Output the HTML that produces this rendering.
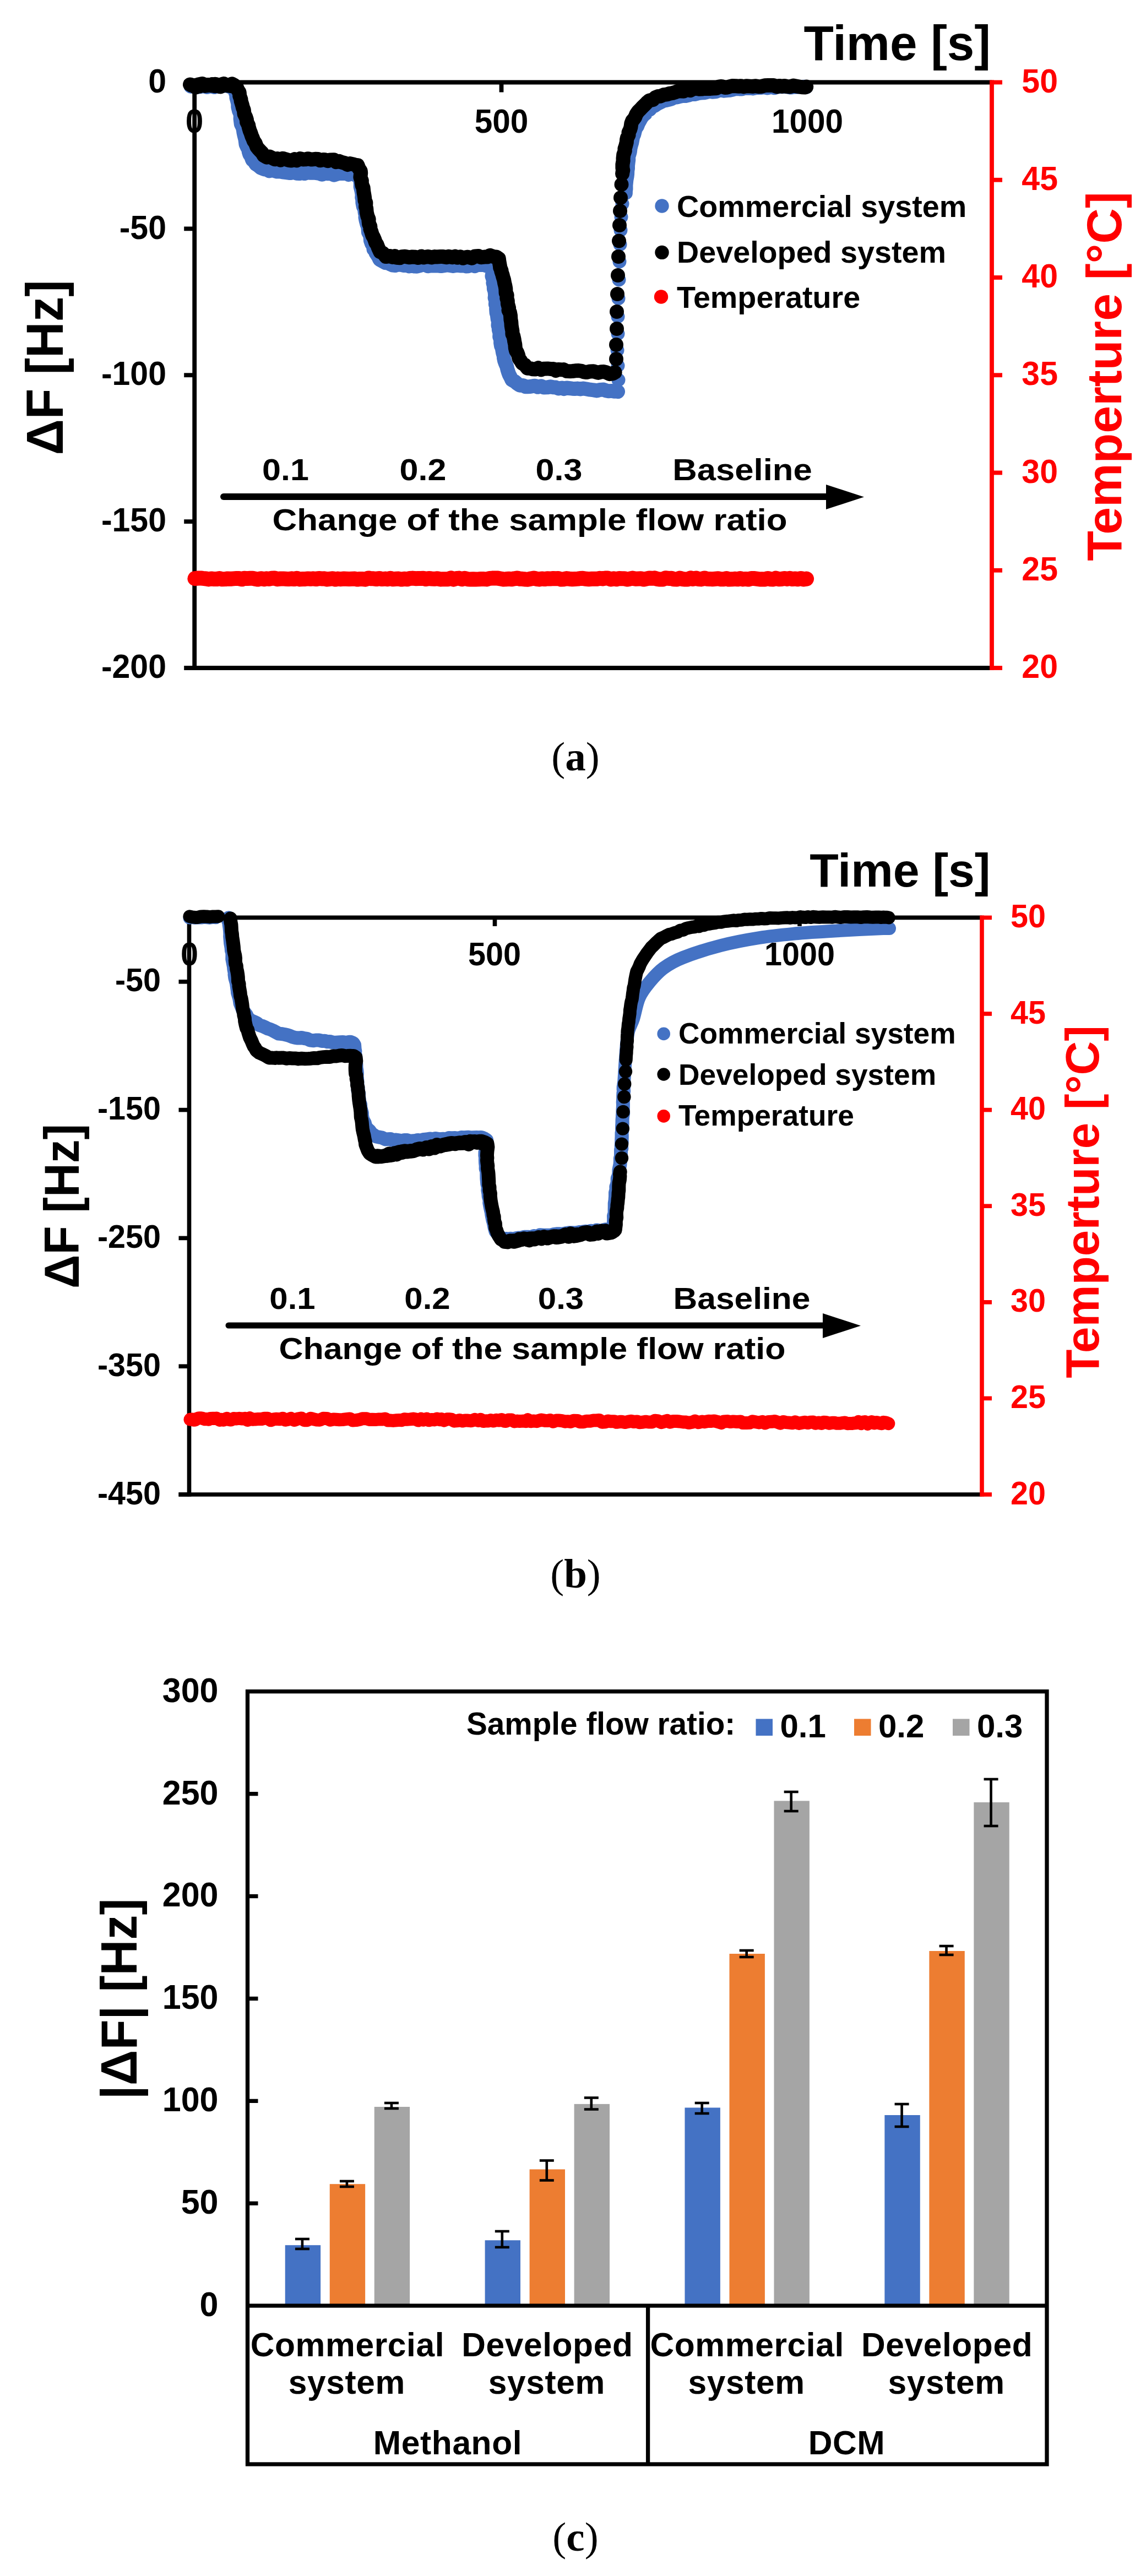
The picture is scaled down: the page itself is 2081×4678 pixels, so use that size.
<!DOCTYPE html>
<html><head><meta charset="utf-8"><title>Figure</title>
<style>
html,body{margin:0;padding:0;background:#fff}
svg{display:block;font-family:"Liberation Sans", sans-serif;font-weight:bold}
</style></head><body>
<svg width="2081" height="4678" viewBox="0 0 2081 4678">
<rect width="2081" height="4678" fill="#fff"/>
<line x1="353.2" y1="145.6" x2="353.2" y2="1216.9" stroke="#000" stroke-width="7.8" stroke-linecap="butt"/>
<line x1="353.2" y1="149.5" x2="1801" y2="149.5" stroke="#000" stroke-width="7.8" stroke-linecap="butt"/>
<line x1="334.2" y1="1213" x2="1801" y2="1213" stroke="#000" stroke-width="7.8" stroke-linecap="butt"/>
<line x1="334.2" y1="149.5" x2="353.2" y2="149.5" stroke="#000" stroke-width="7.8" stroke-linecap="butt"/>
<line x1="334.2" y1="415.375" x2="353.2" y2="415.375" stroke="#000" stroke-width="7.8" stroke-linecap="butt"/>
<line x1="334.2" y1="681.25" x2="353.2" y2="681.25" stroke="#000" stroke-width="7.8" stroke-linecap="butt"/>
<line x1="334.2" y1="947.125" x2="353.2" y2="947.125" stroke="#000" stroke-width="7.8" stroke-linecap="butt"/>
<line x1="910.5" y1="149.5" x2="910.5" y2="167.5" stroke="#000" stroke-width="7.8" stroke-linecap="butt"/>
<line x1="1466" y1="149.5" x2="1466" y2="167.5" stroke="#000" stroke-width="7.8" stroke-linecap="butt"/>
<line x1="1801" y1="145.6" x2="1801" y2="1216.9" stroke="#FF0000" stroke-width="7.8" stroke-linecap="butt"/>
<line x1="1801" y1="149.5" x2="1820" y2="149.5" stroke="#FF0000" stroke-width="7.8" stroke-linecap="butt"/>
<text transform="translate(1921 167.6) scale(1 1.04)" font-size="59" text-anchor="end" fill="#FF0000" font-weight="bold">50</text>
<line x1="1801" y1="326.75" x2="1820" y2="326.75" stroke="#FF0000" stroke-width="7.8" stroke-linecap="butt"/>
<text transform="translate(1921 344.9) scale(1 1.04)" font-size="59" text-anchor="end" fill="#FF0000" font-weight="bold">45</text>
<line x1="1801" y1="504.0" x2="1820" y2="504.0" stroke="#FF0000" stroke-width="7.8" stroke-linecap="butt"/>
<text transform="translate(1921 522.1) scale(1 1.04)" font-size="59" text-anchor="end" fill="#FF0000" font-weight="bold">40</text>
<line x1="1801" y1="681.25" x2="1820" y2="681.25" stroke="#FF0000" stroke-width="7.8" stroke-linecap="butt"/>
<text transform="translate(1921 699.4) scale(1 1.04)" font-size="59" text-anchor="end" fill="#FF0000" font-weight="bold">35</text>
<line x1="1801" y1="858.5" x2="1820" y2="858.5" stroke="#FF0000" stroke-width="7.8" stroke-linecap="butt"/>
<text transform="translate(1921 876.6) scale(1 1.04)" font-size="59" text-anchor="end" fill="#FF0000" font-weight="bold">30</text>
<line x1="1801" y1="1035.75" x2="1820" y2="1035.75" stroke="#FF0000" stroke-width="7.8" stroke-linecap="butt"/>
<text transform="translate(1921 1053.9) scale(1 1.04)" font-size="59" text-anchor="end" fill="#FF0000" font-weight="bold">25</text>
<line x1="1801" y1="1213.0" x2="1820" y2="1213.0" stroke="#FF0000" stroke-width="7.8" stroke-linecap="butt"/>
<text transform="translate(1921 1231.1) scale(1 1.04)" font-size="59" text-anchor="end" fill="#FF0000" font-weight="bold">20</text>
<polyline points="346.7,156.9 350.5,156.6 354.4,157.4 358.3,157.7 363.6,157.3 369.4,156.0 376.2,158.1 381.9,156.0 389.2,158.1 395.4,156.2 402.3,155.0 407.9,155.7 412.0,155.2 417.1,157.5 421.0,157.0 425.3,156.6 427.9,159.6 427.2,167.1 429.2,171.9 429.4,177.2 430.6,181.5 432.3,188.4 432.3,194.0 434.0,201.2 435.4,204.2 436.8,208.6 436.6,215.6 437.1,219.8 437.8,225.4 440.2,230.1 441.6,234.3 442.4,240.3 443.5,245.5 445.3,252.5 445.9,256.7 446.5,261.8 449.1,267.5 450.9,269.8 451.8,275.5 453.3,280.2 455.9,283.9 458.1,290.3 461.0,292.5 464.8,298.2 468.6,300.7 474.0,305.0 479.6,307.2 484.6,307.7 489.0,310.4 494.7,309.0 497.9,310.0 502.9,311.5 508.8,311.3 513.2,312.3 519.7,313.2 524.9,313.9 528.5,313.9 533.4,312.3 538.7,314.8 543.7,315.1 548.0,314.0 552.8,315.0 558.1,313.3 563.9,313.8 569.6,313.6 574.3,314.1 579.8,314.9 584.8,316.7 590.9,314.5 595.0,315.3 599.7,314.8 606.7,317.7 611.9,316.0 617.0,314.7 623.1,315.0 629.4,314.6 633.0,317.1 638.7,314.7 643.0,314.7 646.8,318.4 650.7,318.6 653.6,321.3 654.4,327.9 654.8,334.2 654.7,339.1 656.3,345.7 657.1,349.7 657.7,354.2 657.3,358.5 658.3,362.0 658.4,368.1 659.7,374.8 661.9,379.4 662.8,386.6 663.9,389.9 663.5,394.8 664.5,399.9 666.4,407.3 667.9,410.9 668.7,416.9 668.8,421.3 671.5,426.3 672.5,429.9 673.0,436.8 674.9,442.3 677.8,446.1 678.5,452.6 681.1,454.6 682.3,458.9 687.2,466.6 689.3,471.3 695.2,474.5 699.7,477.2 703.3,476.8 709.2,479.9 713.0,481.6 717.7,482.0 723.6,480.3 727.9,480.9 733.6,482.1 739.5,481.7 743.1,483.4 747.8,482.1 752.7,483.6 757.1,483.7 762.2,482.4 767.4,480.8 772.6,481.3 777.2,483.3 783.1,482.2 789.8,482.5 794.7,482.3 800.8,483.1 805.5,482.4 811.3,481.4 817.8,482.1 822.7,482.9 828.6,481.9 833.0,482.0 837.5,482.6 841.9,482.1 846.1,483.4 850.4,483.2 856.8,481.2 862.0,483.2 868.3,480.3 872.3,481.1 877.3,480.5 881.8,482.0 887.2,483.3 889.3,483.7 894.0,485.9 894.6,494.6 893.5,501.4 894.5,504.3 896.3,510.1 895.4,513.8 896.8,518.8 896.9,524.3 898.6,529.3 899.1,536.8 898.6,540.9 900.4,546.2 899.9,552.6 901.8,557.8 901.1,560.9 901.6,568.0 902.7,571.4 903.7,579.5 905.1,583.0 904.5,590.7 906.0,595.4 905.8,598.6 907.6,604.9 907.2,611.4 909.2,616.9 909.1,622.7 910.0,628.1 911.6,631.6 912.8,638.5 913.2,640.8 914.7,645.8 915.0,650.1 916.0,654.7 917.6,659.4 920.2,665.4 921.4,670.7 922.8,675.4 924.6,680.2 927.8,686.3 929.4,689.9 935.1,693.0 939.4,696.8 943.9,699.8 949.8,700.0 954.3,702.2 957.8,702.2 963.0,701.9 967.2,701.2 971.4,700.7 976.7,702.8 982.4,701.2 987.6,703.5 994.8,703.2 999.6,702.2 1004.5,703.2 1009.1,703.5 1014.2,705.5 1020.4,704.5 1023.8,706.1 1028.8,704.5 1033.1,705.0 1039.0,705.7 1043.6,706.0 1048.4,705.6 1053.8,706.4 1059.1,705.5 1065.2,706.5 1071.6,707.7 1077.9,708.4 1083.8,709.4 1089.1,707.9 1096.0,707.6 1101.0,709.5 1105.0,710.3 1111.4,709.9 1115.5,710.7 1118.2,709.9 1122.0,711.1" fill="none" stroke="#4472C4" stroke-width="26" stroke-linecap="round" stroke-linejoin="round"/>
<circle cx="1123" cy="690" r="12.5" fill="#4472C4"/>
<circle cx="1122" cy="664" r="12.5" fill="#4472C4"/>
<circle cx="1121" cy="636" r="12.5" fill="#4472C4"/>
<circle cx="1122" cy="606" r="12.5" fill="#4472C4"/>
<circle cx="1122" cy="575" r="12.5" fill="#4472C4"/>
<circle cx="1123" cy="542" r="12.5" fill="#4472C4"/>
<circle cx="1124" cy="508" r="12.5" fill="#4472C4"/>
<circle cx="1125" cy="475" r="12.5" fill="#4472C4"/>
<circle cx="1126" cy="444" r="12.5" fill="#4472C4"/>
<circle cx="1127" cy="418" r="12.5" fill="#4472C4"/>
<circle cx="1128" cy="394" r="12.5" fill="#4472C4"/>
<circle cx="1130" cy="370" r="12.5" fill="#4472C4"/>
<polyline points="1136.4,350.7 1136.4,347.5 1137.0,342.9 1136.9,336.5 1137.4,331.6 1137.9,326.7 1139.1,320.3 1139.6,315.6 1139.8,309.5 1140.5,306.1 1140.5,300.7 1141.2,294.8 1141.8,290.1 1141.6,284.9 1143.3,279.4 1144.3,275.6 1145.1,269.1 1146.2,264.5 1147.8,259.2 1148.9,253.2 1149.7,248.7 1151.8,244.1 1153.1,239.0 1154.6,233.6 1157.6,229.2 1159.9,223.6 1162.2,219.4 1165.0,214.2 1169.0,209.3 1172.5,206.5 1175.1,201.7 1180.4,198.9 1184.6,194.0 1189.0,192.3 1194.0,188.8 1199.6,186.0 1205.3,183.3 1209.7,182.4 1214.6,181.3 1218.9,180.2 1225.0,177.0 1229.3,176.9 1234.8,175.4 1239.6,174.5 1245.1,174.5 1250.1,173.4 1256.7,171.2 1262.5,171.4 1268.1,169.7 1272.8,169.1 1278.7,168.8 1283.1,167.8 1288.3,166.4 1293.6,167.3 1299.7,166.9 1304.9,164.9 1310.3,164.2 1315.0,165.2 1320.5,164.5 1325.3,164.2 1330.9,163.0 1336.2,161.5 1342.3,161.9 1347.2,162.0 1351.6,160.4 1357.3,160.3 1361.8,160.4 1366.7,160.9 1372.7,159.7 1377.6,159.5 1382.9,159.4 1388.0,158.7 1393.8,160.0 1400.0,158.4 1406.1,159.8 1411.5,158.0 1417.3,157.7 1423.6,157.6 1429.6,157.9 1436.0,159.1 1442.0,158.1 1447.1,158.2 1452.1,157.8 1456.3,157.6 1461.3,157.3 1464.0,158.3" fill="none" stroke="#4472C4" stroke-width="25" stroke-linecap="round" stroke-linejoin="round"/>
<polyline points="347.8,155.0 350.1,155.0 355.0,155.5 361.8,156.8 367.7,153.6 372.4,155.9 380.9,154.9 385.1,153.1 390.0,156.2 396.6,155.7 402.5,153.4 406.2,152.8 412.4,154.6 418.2,154.7 421.8,154.8 424.9,154.2 430.0,159.0 432.2,164.1 434.7,167.7 435.2,174.1 437.5,180.4 437.6,183.4 439.9,190.8 440.9,195.1 442.8,199.9 443.6,206.9 446.6,213.2 448.0,217.5 448.1,221.4 451.3,227.7 451.6,230.3 453.8,237.8 455.3,241.2 457.6,248.4 458.5,249.8 460.7,255.7 463.8,260.2 466.3,266.8 468.1,269.1 472.0,273.3 475.8,277.3 478.9,282.4 484.6,285.6 489.3,284.4 493.3,286.4 499.2,289.3 503.4,288.0 509.4,290.7 513.5,287.7 517.9,289.1 524.6,291.0 529.3,291.5 534.9,289.2 538.6,291.4 545.1,288.1 550.2,289.4 554.8,289.3 559.3,288.2 565.4,289.6 572.3,288.8 577.6,289.1 581.3,291.3 587.1,290.0 590.1,290.3 595.3,292.1 599.3,290.5 606.5,290.2 610.4,294.2 615.8,292.8 618.9,294.2 625.9,296.1 631.1,299.1 635.8,297.1 642.4,298.6 645.7,299.8 649.6,300.2 651.7,305.9 654.8,310.5 655.2,314.1 654.4,321.9 656.9,328.3 656.6,330.6 657.6,336.6 659.6,340.9 660.4,348.5 661.5,354.7 662.2,359.4 662.5,364.1 664.4,368.0 664.1,375.6 665.2,378.4 665.8,385.6 667.4,392.6 669.7,398.0 669.4,400.1 670.1,406.6 672.4,411.3 672.4,415.6 674.3,420.6 676.2,427.2 678.0,429.9 680.4,435.4 681.9,440.2 684.5,443.9 686.9,450.1 690.2,457.3 695.2,459.4 700.8,466.0 708.0,465.0 712.4,466.9 717.0,465.1 720.4,467.9 726.1,468.3 729.6,466.2 735.3,465.8 742.8,467.3 748.7,466.5 754.6,466.8 759.5,468.0 765.3,465.6 769.2,467.5 773.2,466.6 777.9,466.0 783.3,467.5 789.3,466.1 793.2,466.5 800.0,466.0 804.6,466.1 811.0,467.3 814.8,465.7 820.8,467.3 826.5,465.6 830.6,467.8 836.0,466.3 840.6,468.7 845.2,467.3 849.7,466.7 857.0,468.7 862.1,465.5 868.9,465.1 873.2,467.3 879.7,466.6 885.0,466.5 890.0,463.8 893.5,465.2 898.9,466.8 901.1,466.4 905.8,469.5 906.4,474.5 908.0,483.5 908.1,485.6 910.5,491.3 910.3,492.6 912.9,500.3 913.1,501.9 915.1,508.2 916.2,514.4 917.2,518.2 918.3,524.2 918.6,532.3 920.7,535.9 920.3,541.6 921.8,546.6 921.9,551.4 924.1,559.2 923.5,563.6 925.9,567.3 927.0,573.2 927.4,580.3 928.3,585.0 928.7,591.4 929.6,596.9 930.4,601.2 930.4,606.6 932.2,609.8 933.6,616.0 934.1,619.8 935.3,625.2 935.8,631.7 937.0,636.8 939.2,640.0 940.9,644.5 942.5,651.0 944.9,654.2 948.3,659.9 953.0,662.7 957.9,668.7 963.5,669.1 966.3,670.2 971.5,670.6 977.4,668.2 982.6,671.4 986.8,669.7 994.3,669.4 1000.9,670.2 1005.2,670.0 1009.3,673.0 1013.6,670.9 1019.3,671.4 1023.5,671.1 1029.1,674.1 1035.5,674.2 1039.6,674.0 1044.7,673.3 1050.8,673.0 1056.2,673.9 1060.2,675.4 1065.0,676.1 1071.8,674.4 1077.6,674.3 1083.2,675.9 1086.8,676.9 1091.5,675.2 1096.5,675.1 1100.7,676.1 1107.0,679.2 1112.9,678.4 1116.6,676.2" fill="none" stroke="#000" stroke-width="26" stroke-linecap="round" stroke-linejoin="round"/>
<polyline points="345.0,153.5 351.1,155.4 355.3,158.5 359.2,153.7 367.5,152.0 371.3,154.2 378.3,154.0 383.8,155.5 390.8,152.7 396.6,154.4 400.3,157.6 406.4,151.9 411.2,155.2 419.2,156.1 421.4,152.4 422.9,155.0" fill="none" stroke="#000" stroke-width="26" stroke-linecap="round" stroke-linejoin="round"/>
<circle cx="1119" cy="652" r="13" fill="#000"/>
<circle cx="1119" cy="626" r="13" fill="#000"/>
<circle cx="1120" cy="597" r="13" fill="#000"/>
<circle cx="1120" cy="566" r="13" fill="#000"/>
<circle cx="1121" cy="534" r="13" fill="#000"/>
<circle cx="1122" cy="500" r="13" fill="#000"/>
<circle cx="1123" cy="466" r="13" fill="#000"/>
<circle cx="1124" cy="437.5" r="13" fill="#000"/>
<circle cx="1125" cy="409" r="13" fill="#000"/>
<circle cx="1126" cy="383" r="13" fill="#000"/>
<circle cx="1127" cy="359" r="13" fill="#000"/>
<circle cx="1128.5" cy="335" r="13" fill="#000"/>
<polyline points="1130.1,315.6 1130.5,312.6 1131.3,309.3 1130.4,305.0 1130.4,298.6 1131.6,292.0 1131.5,287.7 1132.2,281.0 1134.8,273.9 1134.4,270.2 1136.1,265.1 1137.8,258.5 1138.1,253.7 1138.9,250.4 1141.6,245.0 1141.5,240.7 1144.2,235.1 1145.4,230.9 1146.3,224.4 1148.2,219.3 1150.3,217.0 1153.1,213.1 1155.4,207.3 1158.7,202.5 1162.8,198.5 1166.6,194.4 1171.8,189.4 1175.7,185.3 1179.2,182.5 1185.4,181.3 1190.1,177.0 1195.1,174.9 1199.0,174.7 1205.1,172.2 1211.3,171.4 1215.7,169.9 1221.1,169.0 1225.7,167.6 1231.3,165.5 1236.1,165.6 1241.5,165.7 1247.4,162.3 1253.3,164.3 1259.0,161.3 1263.6,160.4 1269.9,161.7 1274.9,161.6 1278.8,160.7 1284.3,161.0 1290.2,160.9 1294.0,160.5 1300.7,160.3 1305.0,157.7 1310.2,156.9 1316.4,158.9 1320.9,158.7 1325.7,156.9 1329.9,156.1 1336.5,156.3 1341.7,156.8 1345.4,156.2 1350.5,157.5 1355.6,156.2 1361.8,156.6 1367.0,156.9 1371.0,156.2 1377.3,157.2 1382.9,156.9 1388.9,155.3 1395.1,154.9 1400.6,155.1 1404.6,155.1 1411.2,157.4 1414.8,155.9 1420.5,156.9 1424.4,156.0 1428.7,157.0 1434.6,157.5 1440.6,155.5 1447.0,156.7 1451.3,157.5 1456.0,158.3 1461.2,158.6 1464.2,157.6" fill="none" stroke="#000" stroke-width="26" stroke-linecap="round" stroke-linejoin="round"/>
<polyline points="353.9,1050.7 359.6,1050.0 364.6,1049.9 368.6,1050.4 374.6,1051.0 378.8,1051.9 383.6,1050.9 389.0,1051.6 394.4,1051.4 398.8,1050.6 403.5,1051.8 409.2,1051.6 413.5,1050.9 419.4,1051.2 423.5,1050.9 429.6,1050.4 433.6,1050.5 439.3,1051.8 443.5,1050.2 448.6,1050.6 454.0,1050.2 458.8,1050.3 464.7,1051.5 468.4,1052.1 473.4,1050.7 479.7,1051.7 484.3,1050.8 488.6,1051.3 493.4,1050.3 498.8,1049.9 503.9,1051.7 509.3,1051.0 514.2,1050.9 518.5,1051.2 523.9,1051.6 529.6,1050.8 534.1,1051.6 538.9,1050.3 544.3,1051.9 549.4,1051.5 554.5,1051.4 559.2,1050.9 563.7,1051.3 568.4,1050.8 574.4,1051.5 579.2,1050.4 583.9,1050.9 589.2,1050.8 594.3,1052.0 598.5,1051.4 604.4,1050.7 609.0,1052.1 613.3,1051.1 618.5,1051.7 624.6,1051.0 628.4,1051.2 634.1,1051.5 639.0,1051.3 644.5,1051.1 648.9,1052.1 653.6,1051.4 658.8,1051.6 663.5,1052.2 668.8,1049.9 673.7,1050.8 678.3,1050.8 683.9,1051.5 688.8,1050.4 693.6,1051.6 699.6,1051.1 703.6,1051.7 708.8,1050.3 713.5,1051.7 719.4,1051.3 724.0,1051.1 728.6,1052.1 733.8,1051.3 739.5,1051.8 744.0,1050.5 749.1,1050.1 754.5,1050.7 759.5,1050.4 763.8,1050.4 768.9,1050.2 773.3,1051.5 778.7,1050.4 783.7,1051.0 788.9,1051.3 794.2,1050.7 799.6,1051.9 803.4,1051.8 809.6,1051.7 813.5,1051.8 819.2,1049.8 823.3,1052.1 829.2,1050.4 833.4,1050.1 838.6,1051.7 843.8,1050.2 849.6,1051.7 853.5,1051.9 859.2,1051.7 864.2,1051.9 869.4,1051.8 873.6,1051.5 879.0,1051.6 883.9,1051.9 889.1,1050.4 893.6,1050.1 899.0,1049.9 904.0,1050.1 909.0,1051.0 914.1,1051.9 918.3,1051.8 924.0,1051.2 929.2,1051.8 933.8,1050.8 939.7,1050.0 944.2,1051.3 948.3,1051.3 954.3,1052.0 958.8,1052.2 964.0,1051.0 969.6,1049.9 974.3,1051.3 978.8,1051.9 983.8,1050.9 989.0,1051.6 993.6,1050.8 998.9,1051.1 1004.5,1050.5 1009.5,1050.8 1014.0,1050.5 1019.0,1052.1 1024.2,1051.7 1028.8,1050.6 1033.7,1051.2 1039.2,1051.7 1043.3,1051.5 1049.6,1051.1 1053.4,1050.5 1058.3,1050.3 1064.6,1051.3 1069.2,1051.7 1074.6,1051.3 1079.2,1051.3 1084.3,1051.2 1089.3,1050.3 1094.2,1050.9 1099.4,1050.0 1103.5,1049.9 1109.4,1052.0 1114.2,1050.7 1119.5,1051.7 1124.1,1050.4 1128.7,1050.8 1133.7,1050.8 1139.2,1052.0 1143.4,1051.2 1148.3,1050.1 1154.4,1051.2 1159.6,1050.9 1163.3,1050.7 1169.1,1052.1 1174.7,1050.9 1178.9,1050.0 1184.2,1050.3 1188.5,1049.8 1193.3,1051.4 1198.5,1052.1 1203.4,1051.9 1208.5,1049.8 1214.3,1050.4 1219.3,1050.2 1223.4,1051.7 1229.3,1051.9 1234.3,1050.0 1239.2,1051.5 1243.9,1052.0 1248.6,1052.1 1254.3,1049.8 1258.3,1051.4 1264.5,1050.0 1268.7,1051.6 1273.5,1051.9 1279.0,1049.9 1283.8,1051.2 1288.9,1051.4 1293.5,1051.7 1298.8,1051.3 1304.2,1050.8 1308.8,1051.7 1314.6,1051.7 1319.1,1050.5 1323.4,1052.1 1329.3,1051.8 1333.8,1051.3 1339.7,1051.8 1344.1,1050.5 1348.9,1051.9 1353.8,1051.4 1359.1,1052.0 1364.4,1050.5 1368.3,1050.4 1373.9,1051.2 1379.5,1051.9 1383.3,1051.8 1389.4,1051.9 1394.1,1050.5 1399.5,1051.7 1404.3,1052.0 1408.8,1050.0 1414.1,1051.7 1418.6,1051.6 1424.6,1050.4 1429.2,1051.4 1434.0,1050.3 1438.6,1051.6 1444.4,1050.9 1448.4,1051.7 1454.4,1050.4 1459.1,1052.0 1464.6,1051.1" fill="none" stroke="#FF0000" stroke-width="27" stroke-linecap="round" stroke-linejoin="round"/>
<text transform="translate(302 167.6) scale(1 1.04)" font-size="59" text-anchor="end" fill="#000" font-weight="bold">0</text>
<text transform="translate(302 433.5) scale(1 1.04)" font-size="59" text-anchor="end" fill="#000" font-weight="bold">-50</text>
<text transform="translate(302 699.4) scale(1 1.04)" font-size="59" text-anchor="end" fill="#000" font-weight="bold">-100</text>
<text transform="translate(302 965.2) scale(1 1.04)" font-size="59" text-anchor="end" fill="#000" font-weight="bold">-150</text>
<text transform="translate(302 1231.1) scale(1 1.04)" font-size="59" text-anchor="end" fill="#000" font-weight="bold">-200</text>
<text transform="translate(353 240.9) scale(1 1.04)" font-size="58.5" text-anchor="middle" fill="#000" font-weight="bold">0</text>
<text transform="translate(910.5 240.9) scale(1 1.04)" font-size="58.5" text-anchor="middle" fill="#000" font-weight="bold">500</text>
<text transform="translate(1466 240.9) scale(1 1.04)" font-size="58.5" text-anchor="middle" fill="#000" font-weight="bold">1000</text>
<text x="1799" y="108.5" font-size="89" text-anchor="end" fill="#000" font-weight="bold">Time [s]</text>
<text transform="translate(113.5 667.5) rotate(-90) scale(1 1.04)" font-size="91" text-anchor="middle" fill="#000" font-weight="bold">ΔF [Hz]</text>
<text x="2036" y="683.5" font-size="89.5" text-anchor="middle" fill="#FF0000" font-weight="bold" transform="rotate(-90 2036 683.5)">Temperture [°C]</text>
<circle cx="1202" cy="374" r="12.7" fill="#4472C4"/>
<text x="1229" y="394.0" font-size="55.7" text-anchor="start" fill="#000" font-weight="bold">Commercial system</text>
<circle cx="1202" cy="458.4" r="12.7" fill="#000"/>
<text x="1229" y="476.5" font-size="55.7" text-anchor="start" fill="#000" font-weight="bold">Developed system</text>
<circle cx="1200.5" cy="539" r="12.7" fill="#FF0000"/>
<text x="1229" y="559.0" font-size="55.7" text-anchor="start" fill="#000" font-weight="bold">Temperature</text>
<line x1="406" y1="902" x2="1510" y2="902" stroke="#000" stroke-width="12" stroke-linecap="round"/>
<polygon points="1500,880 1569,902.5 1500,925" fill="#000"/>
<text transform="translate(518.5 872) scale(1.09 1)" font-size="56" text-anchor="middle" fill="#000" font-weight="bold">0.1</text>
<text transform="translate(768 872) scale(1.09 1)" font-size="56" text-anchor="middle" fill="#000" font-weight="bold">0.2</text>
<text transform="translate(1015 872) scale(1.09 1)" font-size="56" text-anchor="middle" fill="#000" font-weight="bold">0.3</text>
<text transform="translate(1348 872) scale(1.1 1)" font-size="56" text-anchor="middle" fill="#000" font-weight="bold">Baseline</text>
<text transform="translate(962 963) scale(1.105 1)" font-size="56" text-anchor="middle" fill="#000" font-weight="bold">Change of the sample flow ratio</text>
<line x1="343.5" y1="1662.6000000000001" x2="343.5" y2="2717.8" stroke="#000" stroke-width="7.6" stroke-linecap="butt"/>
<line x1="343.5" y1="1666.4" x2="1783" y2="1666.4" stroke="#000" stroke-width="7.6" stroke-linecap="butt"/>
<line x1="324.5" y1="2714" x2="1783" y2="2714" stroke="#000" stroke-width="7.6" stroke-linecap="butt"/>
<line x1="324.5" y1="1782.8000000000002" x2="343.5" y2="1782.8000000000002" stroke="#000" stroke-width="7.6" stroke-linecap="butt"/>
<text transform="translate(292 1800.4) scale(1 1.04)" font-size="57.5" text-anchor="end" fill="#000" font-weight="bold">-50</text>
<line x1="324.5" y1="2015.6000000000001" x2="343.5" y2="2015.6000000000001" stroke="#000" stroke-width="7.6" stroke-linecap="butt"/>
<text transform="translate(292 2033.2) scale(1 1.04)" font-size="57.5" text-anchor="end" fill="#000" font-weight="bold">-150</text>
<line x1="324.5" y1="2248.4" x2="343.5" y2="2248.4" stroke="#000" stroke-width="7.6" stroke-linecap="butt"/>
<text transform="translate(292 2266.0) scale(1 1.04)" font-size="57.5" text-anchor="end" fill="#000" font-weight="bold">-250</text>
<line x1="324.5" y1="2481.2" x2="343.5" y2="2481.2" stroke="#000" stroke-width="7.6" stroke-linecap="butt"/>
<text transform="translate(292 2498.8) scale(1 1.04)" font-size="57.5" text-anchor="end" fill="#000" font-weight="bold">-350</text>
<line x1="324.5" y1="2714.0" x2="343.5" y2="2714.0" stroke="#000" stroke-width="7.6" stroke-linecap="butt"/>
<text transform="translate(292 2731.6) scale(1 1.04)" font-size="57.5" text-anchor="end" fill="#000" font-weight="bold">-450</text>
<line x1="898.5" y1="1666.4" x2="898.5" y2="1681.9" stroke="#000" stroke-width="7.6" stroke-linecap="butt"/>
<line x1="1452" y1="1666.4" x2="1452" y2="1681.9" stroke="#000" stroke-width="7.6" stroke-linecap="butt"/>
<line x1="1783" y1="1662.6000000000001" x2="1783" y2="2717.8" stroke="#FF0000" stroke-width="7.6" stroke-linecap="butt"/>
<line x1="1783" y1="1666.4" x2="1801" y2="1666.4" stroke="#FF0000" stroke-width="7.6" stroke-linecap="butt"/>
<text transform="translate(1899 1684.0) scale(1 1.04)" font-size="57.5" text-anchor="end" fill="#FF0000" font-weight="bold">50</text>
<line x1="1783" y1="1841.0" x2="1801" y2="1841.0" stroke="#FF0000" stroke-width="7.6" stroke-linecap="butt"/>
<text transform="translate(1899 1858.6) scale(1 1.04)" font-size="57.5" text-anchor="end" fill="#FF0000" font-weight="bold">45</text>
<line x1="1783" y1="2015.6000000000001" x2="1801" y2="2015.6000000000001" stroke="#FF0000" stroke-width="7.6" stroke-linecap="butt"/>
<text transform="translate(1899 2033.2) scale(1 1.04)" font-size="57.5" text-anchor="end" fill="#FF0000" font-weight="bold">40</text>
<line x1="1783" y1="2190.2" x2="1801" y2="2190.2" stroke="#FF0000" stroke-width="7.6" stroke-linecap="butt"/>
<text transform="translate(1899 2207.8) scale(1 1.04)" font-size="57.5" text-anchor="end" fill="#FF0000" font-weight="bold">35</text>
<line x1="1783" y1="2364.8" x2="1801" y2="2364.8" stroke="#FF0000" stroke-width="7.6" stroke-linecap="butt"/>
<text transform="translate(1899 2382.4) scale(1 1.04)" font-size="57.5" text-anchor="end" fill="#FF0000" font-weight="bold">30</text>
<line x1="1783" y1="2539.4" x2="1801" y2="2539.4" stroke="#FF0000" stroke-width="7.6" stroke-linecap="butt"/>
<text transform="translate(1899 2557.0) scale(1 1.04)" font-size="57.5" text-anchor="end" fill="#FF0000" font-weight="bold">25</text>
<line x1="1783" y1="2714.0" x2="1801" y2="2714.0" stroke="#FF0000" stroke-width="7.6" stroke-linecap="butt"/>
<text transform="translate(1899 2731.6) scale(1 1.04)" font-size="57.5" text-anchor="end" fill="#FF0000" font-weight="bold">20</text>
<polyline points="344.0,1667.1 349.0,1666.5 354.4,1667.3 359.9,1667.1 365.2,1667.0 370.3,1666.3 376.5,1666.8 381.0,1667.2 386.9,1666.4 392.1,1666.8" fill="none" stroke="#4472C4" stroke-width="23" stroke-linecap="round" stroke-linejoin="round"/>
<polyline points="415.0,1666.8 414.6,1672.4 416.2,1675.0 416.1,1678.9 416.9,1684.3 417.6,1690.5 417.9,1696.7 417.7,1700.5 418.2,1706.9 418.7,1712.8 420.1,1720.9 420.5,1726.2 421.8,1729.2 421.9,1735.1 421.8,1741.6 422.6,1745.7 423.8,1751.8 424.5,1755.6 424.9,1760.1 426.3,1767.2 426.0,1769.9 426.8,1775.7 428.6,1782.0 429.5,1785.8 430.5,1793.0 431.3,1799.2 431.5,1802.5 433.6,1809.5 434.6,1812.8 435.6,1818.5 436.0,1821.8 437.4,1825.3 439.0,1829.2 441.0,1834.7 444.4,1839.0 447.7,1843.5 450.3,1849.0 455.5,1853.1 461.6,1855.8 466.5,1857.9 470.7,1861.5 476.2,1863.2 480.3,1865.0 485.6,1867.7 490.2,1869.1 495.4,1871.4 501.4,1874.6 506.1,1877.1 512.7,1877.8 516.7,1878.5 522.2,1879.7 526.0,1881.1 531.1,1883.1 536.0,1884.3 541.1,1885.1 547.4,1884.4 552.5,1885.6 557.7,1886.3 563.2,1889.1 569.4,1889.7 573.3,1889.0 579.6,1889.1 584.4,1890.4 589.8,1890.3 594.5,1891.7 598.5,1891.4 604.5,1893.1 609.9,1893.2 617.1,1892.7 622.6,1892.4 627.6,1893.7 633.4,1892.3 636.9,1892.3 641.2,1894.0 643.6,1897.6 644.2,1905.5 644.9,1909.0 644.4,1912.1 645.6,1917.6 645.9,1921.9 646.5,1928.0 647.0,1935.0 647.0,1938.8 648.0,1944.4 648.4,1948.6 647.8,1954.9 648.5,1958.3 648.9,1964.6 648.9,1969.7 650.0,1975.0 650.1,1980.8 651.6,1986.3 651.5,1991.0 652.2,1996.0 652.4,2000.9 654.6,2005.9 654.8,2011.6 655.8,2015.7 657.4,2021.3 657.4,2025.8 658.7,2032.2 659.7,2034.8 662.3,2039.3 663.9,2045.7 667.5,2050.2 670.9,2053.3 674.6,2058.3 677.3,2060.1 683.0,2064.0 687.8,2064.9 693.5,2066.1 700.1,2068.9 703.8,2068.8 709.1,2068.4 713.8,2070.8 718.0,2070.0 723.7,2070.6 728.4,2071.8 734.5,2070.6 739.6,2070.6 744.6,2072.1 749.9,2071.8 754.8,2071.4 758.7,2070.4 765.0,2071.1 769.2,2069.5 775.1,2069.0 780.4,2068.0 785.9,2068.7 791.1,2067.5 798.5,2068.8 804.6,2068.3 809.6,2068.8 815.2,2066.5 820.5,2066.7 826.3,2066.4 831.9,2067.6 837.8,2065.6 843.4,2065.7 849.7,2065.2 854.2,2065.9 859.2,2065.7 865.3,2065.6 868.9,2065.8 873.4,2065.5 876.4,2066.2 879.7,2067.8 883.6,2070.3 884.4,2075.2 884.9,2080.4 883.0,2086.2 881.0,2092.4 880.9,2098.1 881.5,2102.2 881.4,2106.3 881.6,2111.9 882.2,2117.2 882.1,2122.1 883.8,2127.3 883.8,2133.6 883.9,2140.4 884.4,2145.6 884.7,2149.6 886.3,2156.1 885.8,2161.4 886.9,2167.6 887.2,2172.4 889.2,2179.6 888.8,2184.4 890.0,2190.9 891.2,2196.7 892.3,2201.1 893.0,2206.6 893.9,2210.7 894.8,2215.6 895.8,2218.3 896.5,2221.8 898.1,2229.7 899.9,2236.1 903.1,2239.8 906.9,2245.6 910.7,2248.1 915.9,2249.9 919.8,2249.5 923.1,2250.0 927.2,2249.2 932.2,2250.2 936.4,2248.8 940.9,2248.0 946.0,2248.1 952.1,2246.3 958.1,2246.2 963.7,2246.8 969.8,2244.6 975.0,2245.6 980.6,2242.8 987.5,2243.2 994.3,2243.3 1000.1,2243.2 1005.2,2241.6 1010.8,2240.8 1015.8,2240.8 1021.5,2241.2 1027.7,2239.6 1032.7,2238.8 1039.0,2238.7 1045.0,2239.0 1051.4,2237.6 1056.4,2237.4 1062.9,2236.2 1067.7,2236.9 1072.5,2235.2 1078.8,2236.0 1083.1,2233.9 1088.3,2234.9 1092.5,2235.2 1096.6,2233.5 1099.2,2232.8 1103.0,2233.0 1108.7,2232.6 1113.2,2231.2 1113.4,2228.9 1114.3,2222.6 1114.4,2219.9 1114.7,2214.7 1114.5,2208.4 1116.1,2203.4 1116.1,2196.5 1116.2,2191.3 1116.2,2185.4 1117.0,2180.1 1117.5,2172.7 1117.5,2166.2 1119.0,2160.4 1118.8,2155.3 1120.2,2151.7 1121.2,2146.6 1121.2,2139.8 1123.1,2135.6 1123.9,2130.7 1123.9,2125.4 1124.6,2121.6 1126.0,2114.7 1126.4,2109.0 1126.4,2103.9 1127.4,2100.0 1127.5,2094.7 1127.5,2088.6 1128.8,2085.7 1128.2,2080.6 1129.2,2073.8 1129.1,2069.9 1129.3,2064.3 1129.1,2057.2 1130.1,2051.0 1129.7,2046.7 1130.2,2040.7 1130.1,2033.3 1130.5,2027.5 1131.6,2022.0 1131.2,2015.9 1131.4,2011.0 1131.4,2004.8 1131.2,2001.4 1131.7,1994.9 1131.7,1990.2 1131.9,1985.0 1132.7,1981.5 1132.1,1978.3 1132.2,1973.6 1133.4,1970.0 1132.9,1968.8" fill="none" stroke="#4472C4" stroke-width="25" stroke-linecap="round" stroke-linejoin="round"/>
<path d="M1127,2103 C1128.1,2078.7 1130.7,2008.5 1133,1968 C1135.1,1932.0 1136.9,1899.2 1140,1878 C1141.7,1866.2 1146.4,1861.3 1150,1850 C1153.8,1837.9 1155.6,1823.1 1161,1811 C1166.4,1798.9 1172.1,1792.5 1180,1783 C1187.9,1773.5 1194.2,1765.9 1205,1758 C1215.8,1750.1 1225.2,1744.8 1240,1739 C1258.7,1731.6 1284.0,1723.5 1309,1717 C1334.0,1710.5 1353.8,1707.0 1379,1703 C1404.2,1699.0 1427.2,1697.1 1449,1695 C1469.4,1693.1 1480.0,1692.8 1500,1691.5 C1520.0,1690.2 1541.3,1689.0 1560,1688 C1577.6,1687.1 1594.1,1686.4 1604,1686 C1608.4,1685.8 1613.0,1686.0 1615,1686" fill="none" stroke="#4472C4" stroke-width="24" stroke-linecap="round" stroke-linejoin="round"/>
<polyline points="344.4,1664.3 349.0,1665.4 354.3,1665.9 359.2,1665.9 364.8,1664.5 369.9,1664.3 375.4,1664.5 380.9,1665.2 385.4,1664.5 390.9,1664.4 396.4,1664.2" fill="none" stroke="#000" stroke-width="24" stroke-linecap="round" stroke-linejoin="round"/>
<polyline points="418.5,1668.1 418.6,1671.7 419.1,1675.4 419.9,1679.1 420.2,1683.7 420.5,1690.6 421.4,1695.9 421.8,1701.7 422.8,1707.7 423.5,1713.0 424.3,1719.5 424.7,1725.5 425.5,1729.8 426.9,1735.4 427.5,1740.4 427.3,1744.1 427.8,1749.8 429.3,1754.1 429.7,1759.7 430.8,1764.0 431.7,1769.5 432.3,1774.7 432.5,1781.8 434.1,1786.8 434.1,1791.0 435.1,1796.8 436.1,1802.7 436.6,1808.1 438.1,1813.3 439.2,1819.5 439.9,1824.2 440.5,1830.3 441.2,1834.0 442.7,1840.4 442.9,1843.6 444.4,1849.2 444.7,1854.5 446.1,1861.3 447.6,1866.9 449.6,1870.2 451.0,1875.6 452.7,1881.1 453.7,1884.2 456.7,1890.2 458.8,1895.5 460.9,1900.0 463.3,1903.2 465.5,1907.4 471.1,1911.9 477.2,1914.6 482.3,1917.1 488.5,1920.9 494.7,1921.1 499.0,1921.4 502.3,1920.8 505.8,1921.2 510.7,1921.1 515.3,1921.1 520.7,1922.3 525.3,1921.5 531.0,1922.0 537.1,1921.9 542.0,1922.9 547.7,1922.3 553.8,1922.7 560.1,1922.5 564.7,1922.2 570.6,1921.5 576.4,1921.8 581.4,1920.3 587.5,1919.6 593.0,1919.2 599.0,1919.5 605.1,1917.8 610.6,1918.0 616.1,1917.0 621.0,1916.4 627.0,1917.7 630.5,1917.6 635.7,1917.3 638.4,1917.5 641.9,1917.4 646.0,1920.0 646.8,1926.7 645.4,1934.0 645.2,1939.5 645.3,1943.9 645.7,1949.8 647.3,1953.6 647.2,1959.2 648.7,1965.1 648.6,1970.6 649.9,1974.8 649.9,1978.5 651.0,1983.9 651.1,1989.7 651.7,1995.9 652.2,2000.1 653.2,2007.1 654.2,2013.0 654.9,2019.2 655.1,2023.9 655.3,2028.8 656.5,2033.5 657.2,2038.3 657.9,2046.5 658.4,2050.9 659.8,2057.2 661.1,2062.4 662.3,2069.4 663.3,2073.4 663.7,2078.3 665.9,2084.1 667.9,2089.4 671.2,2094.7 676.3,2098.0 681.8,2100.9 687.5,2100.9 693.0,2099.4 699.8,2098.9 703.9,2099.2 707.4,2098.7 711.5,2097.2 715.6,2095.3 720.0,2095.5 724.3,2094.5 730.0,2093.4 734.8,2092.0 739.7,2092.1 744.7,2089.7 751.0,2089.1 755.8,2088.5 761.7,2087.3 767.3,2086.1 773.1,2084.9 778.0,2083.5 784.3,2083.3 788.7,2083.0 794.0,2080.6 799.3,2080.2 804.0,2080.1 809.8,2079.3 815.8,2078.3 822.5,2076.6 828.3,2075.8 834.3,2076.6 840.2,2075.6 846.1,2073.7 851.9,2074.4 856.0,2074.2 861.3,2072.5 866.6,2073.1 870.7,2072.2 874.7,2072.2 877.6,2073.2 880.4,2074.2 885.0,2076.9 885.9,2083.0 884.9,2090.7 884.4,2098.1 884.9,2102.8 884.4,2107.1 885.0,2111.9 885.8,2117.2 885.5,2121.7 886.7,2128.4 887.1,2132.3 887.4,2138.2 887.8,2145.4 887.8,2151.4 889.0,2155.7 889.0,2161.6 890.4,2167.2 890.3,2172.1 891.1,2179.6 892.0,2184.8 893.0,2190.6 893.9,2194.9 895.4,2200.9 896.0,2206.3 897.2,2209.5 897.3,2214.2 898.2,2219.8 899.4,2222.1 899.8,2229.8 901.7,2234.4 903.0,2238.9 905.4,2243.8 909.8,2250.7 915.5,2253.7 920.7,2255.2 926.9,2253.0 932.7,2252.6 940.0,2252.2 943.8,2251.3 947.4,2251.4 952.2,2249.8 956.9,2251.3 961.2,2249.1 966.9,2248.8 971.5,2248.8 976.8,2248.4 982.7,2248.6 988.9,2246.2 994.1,2247.1 1000.4,2246.5 1004.7,2245.9 1009.3,2244.7 1015.0,2245.4 1020.5,2244.6 1025.3,2244.2 1031.5,2243.2 1037.2,2242.4 1043.0,2242.0 1048.3,2241.3 1054.5,2242.1 1060.5,2240.4 1065.9,2239.6 1071.5,2239.0 1076.5,2240.0 1082.2,2238.7 1087.2,2238.0 1091.2,2237.1 1095.6,2237.2 1099.9,2237.4 1103.5,2236.7 1111.1,2238.3 1115.5,2235.4 1117.2,2233.5 1117.7,2228.7 1118.4,2223.7 1118.3,2217.3 1119.7,2211.0 1119.3,2204.6 1119.6,2199.5 1120.8,2193.6 1121.0,2188.2 1121.7,2184.4 1122.2,2177.9 1122.8,2174.0 1123.1,2166.2 1123.8,2161.9 1123.8,2154.1 1124.1,2148.5 1125.4,2142.5 1125.9,2136.0 1125.5,2132.2 1126.2,2127.8" fill="none" stroke="#000" stroke-width="25" stroke-linecap="round" stroke-linejoin="round"/>
<polyline points="684.6,2099.2 686.6,2099.4 692.3,2100.3 699.5,2099.0 703.6,2097.2 706.8,2095.3 712.2,2097.4 716.7,2093.9 720.0,2096.5 723.9,2092.3 728.3,2091.6 735.4,2090.3 740.8,2091.0 745.4,2090.8 751.0,2090.1 756.7,2087.4 762.7,2085.9 768.2,2087.5 773.9,2084.1 779.4,2086.6 783.8,2082.0 789.3,2084.6 793.2,2078.9 799.2,2081.5 804.9,2079.3 811.5,2077.8 816.8,2076.4 820.5,2076.0 826.5,2077.3 833.9,2075.2 840.8,2075.7 843.8,2074.3 851.0,2077.9 854.3,2072.9 861.0,2073.8 866.2,2074.9 869.3,2073.8 873.6,2074.2 875.5,2076.3 877.8,2075.2" fill="none" stroke="#000" stroke-width="26" stroke-linecap="round" stroke-linejoin="round"/>
<polyline points="916.6,2254.8 921.6,2255.5 925.8,2253.5 933.1,2254.8 941.4,2252.7 943.0,2250.3 947.2,2250.9 951.4,2249.2 957.6,2251.0 960.9,2252.4 965.6,2249.7 970.6,2250.6 978.2,2247.0 983.4,2249.3 987.6,2246.2 994.0,2248.6 998.9,2247.0 1004.9,2245.3 1009.7,2247.1 1013.7,2246.7 1019.6,2245.7 1026.7,2242.1 1032.4,2245.8 1036.5,2240.2 1041.8,2244.7 1047.4,2243.8 1053.7,2242.4 1059.4,2238.9 1066.9,2238.0 1071.4,2241.9 1077.9,2241.2 1083.9,2236.4 1086.4,2239.9 1092.3,2235.6 1095.9,2236.2 1099.5,2235.2 1101.5,2239.6 1108.8,2238.4 1112.8,2235.9" fill="none" stroke="#000" stroke-width="26" stroke-linecap="round" stroke-linejoin="round"/>
<circle cx="1129" cy="2103" r="12.2" fill="#000"/>
<circle cx="1129" cy="2077.6" r="12.2" fill="#000"/>
<circle cx="1130.8" cy="2049.6" r="12.2" fill="#000"/>
<circle cx="1131.6" cy="2019" r="12.2" fill="#000"/>
<circle cx="1133.4" cy="1992" r="12.2" fill="#000"/>
<circle cx="1134.2" cy="1968.5" r="12.2" fill="#000"/>
<circle cx="1136" cy="1945.8" r="12.2" fill="#000"/>
<polyline points="1136.7,1924.9 1136.9,1922.0 1137.0,1917.9 1137.6,1912.0 1137.7,1907.2 1138.5,1901.2 1138.1,1896.3 1139.1,1889.9 1138.9,1883.1 1139.3,1877.3 1139.5,1872.1 1140.4,1866.4 1140.9,1860.0 1141.8,1855.6 1142.2,1850.2 1142.9,1845.8 1143.7,1840.3 1143.9,1834.7 1144.7,1830.2 1145.4,1824.3 1146.3,1819.3 1147.7,1814.5 1148.2,1811.1 1148.8,1805.2 1149.7,1799.5 1150.3,1794.1 1151.7,1789.9 1152.6,1783.5 1153.2,1778.9 1154.1,1774.5 1154.8,1770.8 1156.2,1764.6 1159.0,1759.2 1160.8,1755.4 1162.7,1750.2 1166.0,1744.4 1168.8,1739.9 1172.0,1735.2 1175.5,1730.0 1179.0,1725.5 1182.5,1720.8 1186.8,1716.7 1191.2,1712.3 1195.3,1708.4 1199.5,1704.6 1205.4,1702.0 1209.7,1699.7 1214.7,1697.1 1219.1,1696.2 1224.5,1694.1 1230.3,1692.6 1235.7,1689.4 1240.3,1689.0 1245.7,1686.2 1250.5,1685.0 1256.6,1683.8 1261.1,1683.3 1264.8,1681.8 1269.0,1682.4 1273.8,1680.6 1278.2,1680.3 1283.2,1678.4 1288.1,1677.9 1293.1,1676.8 1298.3,1676.1 1303.7,1674.7 1309.1,1674.8 1314.7,1673.4 1321.2,1672.8 1326.8,1672.1 1332.3,1671.3 1337.1,1672.1 1341.6,1670.9 1347.2,1670.8 1351.7,1669.5 1356.8,1669.7 1362.1,1669.2 1366.8,1669.5 1372.3,1668.7 1376.9,1668.8 1382.6,1667.9 1387.8,1668.5 1392.4,1668.2 1397.7,1667.0 1403.4,1667.3 1408.6,1667.2 1414.4,1667.4 1418.9,1666.9 1424.6,1666.5 1429.9,1666.3 1434.5,1666.9 1439.3,1666.1 1444.1,1666.5 1448.9,1666.3 1453.3,1665.0 1458.3,1665.8 1463.1,1666.0 1467.3,1665.1 1472.2,1666.0 1477.3,1664.8 1483.2,1665.5 1488.0,1665.7 1494.3,1665.3 1499.6,1665.6 1505.0,1665.4 1510.8,1665.8 1516.1,1664.7 1521.3,1665.3 1526.7,1666.1 1532.8,1664.9 1538.8,1665.0 1545.3,1665.5 1551.0,1665.3 1556.5,1665.2 1563.2,1666.0 1568.9,1665.2 1574.0,1664.9 1579.8,1665.5 1585.0,1665.7 1590.2,1665.6 1595.3,1665.4 1599.9,1666.0 1603.3,1665.6 1607.6,1665.8 1611.0,1665.7 1613.8,1666.5" fill="none" stroke="#000" stroke-width="24" stroke-linecap="round" stroke-linejoin="round"/>
<polyline points="345.5,2577.8 349.5,2577.4 351.6,2578.8 354.6,2578.5 356.7,2576.8 361.3,2575.2 365.2,2575.3 368.0,2575.8 372.3,2577.3 375.6,2577.1 379.0,2577.8 381.9,2575.9 387.0,2575.7 391.2,2575.9 393.3,2575.5 399.1,2578.9 402.4,2577.8 406.3,2578.8 411.8,2575.8 414.7,2577.9 419.2,2578.5 424.4,2576.1 429.8,2576.4 434.5,2575.8 440.1,2576.5 444.9,2575.8 449.7,2579.1 453.7,2575.3 458.8,2577.8 463.5,2577.4 468.4,2577.1 475.1,2577.0 480.3,2575.7 486.0,2575.8 491.6,2579.3 497.1,2577.4 501.0,2576.7 507.6,2577.3 513.6,2575.7 518.1,2578.8 524.0,2577.5 528.4,2575.9 534.6,2579.0 541.7,2576.3 547.6,2575.5 552.6,2579.3 557.8,2579.2 564.4,2575.7 569.5,2577.3 575.1,2578.5 580.8,2578.7 587.0,2575.8 593.6,2575.9 599.5,2578.7 605.5,2577.4 610.1,2577.7 616.2,2578.2 622.3,2578.0 628.7,2577.2 635.4,2576.4 640.2,2579.5 646.5,2579.1 653.8,2577.7 658.0,2576.2 665.7,2576.3 670.7,2578.0 675.7,2577.8 681.6,2578.1 688.3,2577.4 693.4,2577.6 699.3,2576.5 704.5,2579.5 710.1,2579.6 714.0,2579.9 720.1,2579.3 725.3,2578.9 729.4,2579.2 734.1,2577.3 738.7,2577.8 744.8,2577.4 750.5,2576.6 754.6,2577.3 759.5,2579.5 764.6,2576.6 768.2,2578.8 774.8,2576.6 778.6,2579.3 783.9,2577.9 788.6,2578.4 793.6,2576.6 798.3,2578.3 801.7,2577.0 806.0,2579.6 811.8,2577.3 815.6,2577.3 820.0,2577.7 825.0,2580.7 831.2,2580.0 834.6,2578.9 840.0,2580.6 844.6,2579.5 848.0,2579.5 854.2,2580.2 857.0,2580.0 862.3,2577.8 868.5,2579.9 872.7,2577.8 877.5,2581.0 882.4,2580.3 887.0,2580.5 891.1,2579.1 896.4,2580.6 901.3,2578.7 906.2,2579.6 911.0,2578.0 915.8,2580.7 918.9,2581.0 923.7,2578.4 929.1,2578.6 934.0,2581.4 939.4,2580.6 943.6,2581.0 949.4,2580.6 954.7,2581.2 958.4,2578.3 964.0,2581.3 968.3,2580.4 974.6,2581.2 977.6,2580.1 982.8,2578.6 989.8,2579.9 994.5,2580.1 999.1,2579.1 1004.4,2581.7 1010.3,2579.5 1014.3,2579.5 1021.1,2580.2 1026.4,2581.7 1030.6,2581.2 1035.8,2581.9 1041.7,2579.7 1049.1,2580.1 1052.9,2582.2 1059.5,2582.3 1064.6,2580.8 1071.7,2580.8 1077.6,2579.6 1083.0,2579.5 1088.2,2578.9 1093.2,2582.7 1099.9,2582.2 1104.3,2580.4 1108.8,2581.3 1115.6,2581.2 1119.5,2582.8 1125.8,2581.8 1128.9,2581.7 1135.0,2583.1 1140.0,2581.9 1145.8,2580.8 1150.9,2582.0 1157.1,2581.4 1161.2,2583.3 1165.8,2582.8 1172.7,2581.7 1177.6,2582.5 1184.2,2582.4 1189.4,2579.7 1193.9,2580.1 1201.0,2583.2 1204.6,2582.0 1211.3,2579.9 1216.5,2582.7 1222.8,2580.9 1228.8,2581.0 1234.0,2581.5 1240.7,2582.5 1246.0,2582.6 1250.8,2583.8 1257.3,2582.7 1262.1,2580.6 1268.6,2583.3 1274.9,2581.5 1279.1,2582.2 1286.7,2580.8 1292.2,2580.9 1297.0,2580.4 1302.8,2581.8 1310.2,2584.1 1314.1,2581.5 1321.8,2581.1 1326.1,2582.1 1331.4,2581.4 1337.9,2582.0 1345.0,2581.5 1349.0,2584.1 1355.3,2583.9 1361.5,2583.7 1366.5,2581.2 1373.2,2582.5 1378.5,2583.4 1384.6,2581.8 1389.3,2584.4 1395.4,2581.9 1401.2,2581.8 1407.1,2581.0 1412.8,2583.1 1417.2,2584.7 1422.5,2581.9 1427.5,2583.1 1434.6,2583.7 1439.2,2584.2 1443.8,2582.3 1450.5,2584.9 1455.7,2583.9 1461.3,2582.7 1466.9,2584.1 1470.7,2582.8 1476.9,2582.6 1480.5,2584.7 1486.4,2583.4 1491.7,2584.9 1495.3,2582.7 1500.1,2583.0 1506.0,2584.8 1511.1,2583.7 1515.2,2583.7 1519.6,2584.8 1525.4,2584.8 1528.4,2584.2 1534.4,2583.5 1539.1,2585.2 1543.1,2584.9 1547.2,2585.1 1550.2,2584.5 1555.7,2584.1 1558.8,2582.0 1563.6,2585.0 1566.7,2582.6 1570.5,2582.1 1575.4,2585.7 1579.4,2583.2 1582.8,2582.1 1586.7,2583.1 1588.1,2584.4 1591.8,2583.0 1595.0,2583.7 1599.4,2585.1 1601.3,2585.2 1604.5,2582.8 1608.7,2583.3 1610.8,2584.3 1613.3,2585.2" fill="none" stroke="#FF0000" stroke-width="24" stroke-linecap="round" stroke-linejoin="round"/>
<text transform="translate(344 1752.9) scale(1 1.04)" font-size="57.5" text-anchor="middle" fill="#000" font-weight="bold">0</text>
<text transform="translate(898 1752.9) scale(1 1.04)" font-size="57.5" text-anchor="middle" fill="#000" font-weight="bold">500</text>
<text transform="translate(1452 1752.9) scale(1 1.04)" font-size="57.5" text-anchor="middle" fill="#000" font-weight="bold">1000</text>
<text x="1798.5" y="1609.5" font-size="86" text-anchor="end" fill="#000" font-weight="bold">Time [s]</text>
<text transform="translate(143 2190.5) rotate(-90) scale(1 1.04)" font-size="85.5" text-anchor="middle" fill="#000" font-weight="bold">ΔF [Hz]</text>
<text x="1995" y="2182.5" font-size="85.5" text-anchor="middle" fill="#FF0000" font-weight="bold" transform="rotate(-90 1995 2182.5)">Temperture [°C]</text>
<circle cx="1205.2" cy="1877.4" r="11.8" fill="#4472C4"/>
<text x="1232" y="1895.3" font-size="53.3" text-anchor="start" fill="#000" font-weight="bold">Commercial system</text>
<circle cx="1205.2" cy="1951" r="11.8" fill="#000"/>
<text x="1232" y="1969.8" font-size="53.3" text-anchor="start" fill="#000" font-weight="bold">Developed system</text>
<circle cx="1205.2" cy="2026.9" r="11.8" fill="#FF0000"/>
<text x="1232" y="2044.3" font-size="53.3" text-anchor="start" fill="#000" font-weight="bold">Temperature</text>
<line x1="415" y1="2407" x2="1505" y2="2407" stroke="#000" stroke-width="11" stroke-linecap="round"/>
<polygon points="1494,2385 1563,2407.5 1494,2430" fill="#000"/>
<text transform="translate(531 2376.5) scale(1.09 1)" font-size="55" text-anchor="middle" fill="#000" font-weight="bold">0.1</text>
<text transform="translate(776 2376.5) scale(1.09 1)" font-size="55" text-anchor="middle" fill="#000" font-weight="bold">0.2</text>
<text transform="translate(1018.5 2376.5) scale(1.09 1)" font-size="55" text-anchor="middle" fill="#000" font-weight="bold">0.3</text>
<text transform="translate(1347 2376.5) scale(1.1 1)" font-size="55" text-anchor="middle" fill="#000" font-weight="bold">Baseline</text>
<text transform="translate(966.5 2468) scale(1.107 1)" font-size="55" text-anchor="middle" fill="#000" font-weight="bold">Change of the sample flow ratio</text>
<rect x="517.7375" y="4077.2" width="64.4" height="110.0" fill="#4472C4"/>
<line x1="548.9375" y1="4066" x2="548.9375" y2="4084" stroke="#000" stroke-width="4.6" stroke-linecap="butt"/>
<line x1="535.9375" y1="4066" x2="561.9375" y2="4066" stroke="#000" stroke-width="4.6" stroke-linecap="butt"/>
<line x1="535.9375" y1="4084" x2="561.9375" y2="4084" stroke="#000" stroke-width="4.6" stroke-linecap="butt"/>
<rect x="598.7375" y="3966.2" width="64.4" height="221.0" fill="#ED7D31"/>
<line x1="629.9375" y1="3961" x2="629.9375" y2="3971" stroke="#000" stroke-width="4.6" stroke-linecap="butt"/>
<line x1="616.9375" y1="3961" x2="642.9375" y2="3961" stroke="#000" stroke-width="4.6" stroke-linecap="butt"/>
<line x1="616.9375" y1="3971" x2="642.9375" y2="3971" stroke="#000" stroke-width="4.6" stroke-linecap="butt"/>
<rect x="679.7375" y="3826" width="64.4" height="361.1999999999998" fill="#A5A5A5"/>
<line x1="710.9375" y1="3819" x2="710.9375" y2="3829" stroke="#000" stroke-width="4.6" stroke-linecap="butt"/>
<line x1="697.9375" y1="3819" x2="723.9375" y2="3819" stroke="#000" stroke-width="4.6" stroke-linecap="butt"/>
<line x1="697.9375" y1="3829" x2="723.9375" y2="3829" stroke="#000" stroke-width="4.6" stroke-linecap="butt"/>
<rect x="880.6125" y="4068.3" width="64.4" height="118.89999999999964" fill="#4472C4"/>
<line x1="911.8125" y1="4052" x2="911.8125" y2="4081" stroke="#000" stroke-width="4.6" stroke-linecap="butt"/>
<line x1="898.8125" y1="4052" x2="924.8125" y2="4052" stroke="#000" stroke-width="4.6" stroke-linecap="butt"/>
<line x1="898.8125" y1="4081" x2="924.8125" y2="4081" stroke="#000" stroke-width="4.6" stroke-linecap="butt"/>
<rect x="961.6125" y="3939.5" width="64.4" height="247.69999999999982" fill="#ED7D31"/>
<line x1="992.8125" y1="3923.5" x2="992.8125" y2="3959.5" stroke="#000" stroke-width="4.6" stroke-linecap="butt"/>
<line x1="979.8125" y1="3923.5" x2="1005.8125" y2="3923.5" stroke="#000" stroke-width="4.6" stroke-linecap="butt"/>
<line x1="979.8125" y1="3959.5" x2="1005.8125" y2="3959.5" stroke="#000" stroke-width="4.6" stroke-linecap="butt"/>
<rect x="1042.6125" y="3820.9" width="64.4" height="366.2999999999997" fill="#A5A5A5"/>
<line x1="1073.8125" y1="3809.5" x2="1073.8125" y2="3830.5" stroke="#000" stroke-width="4.6" stroke-linecap="butt"/>
<line x1="1060.8125" y1="3809.5" x2="1086.8125" y2="3809.5" stroke="#000" stroke-width="4.6" stroke-linecap="butt"/>
<line x1="1060.8125" y1="3830.5" x2="1086.8125" y2="3830.5" stroke="#000" stroke-width="4.6" stroke-linecap="butt"/>
<rect x="1243.4875" y="3827.5" width="64.4" height="359.6999999999998" fill="#4472C4"/>
<line x1="1274.6875" y1="3819" x2="1274.6875" y2="3838" stroke="#000" stroke-width="4.6" stroke-linecap="butt"/>
<line x1="1261.6875" y1="3819" x2="1287.6875" y2="3819" stroke="#000" stroke-width="4.6" stroke-linecap="butt"/>
<line x1="1261.6875" y1="3838" x2="1287.6875" y2="3838" stroke="#000" stroke-width="4.6" stroke-linecap="butt"/>
<rect x="1324.4875" y="3548" width="64.4" height="639.1999999999998" fill="#ED7D31"/>
<line x1="1355.6875" y1="3542" x2="1355.6875" y2="3554" stroke="#000" stroke-width="4.6" stroke-linecap="butt"/>
<line x1="1342.6875" y1="3542" x2="1368.6875" y2="3542" stroke="#000" stroke-width="4.6" stroke-linecap="butt"/>
<line x1="1342.6875" y1="3554" x2="1368.6875" y2="3554" stroke="#000" stroke-width="4.6" stroke-linecap="butt"/>
<rect x="1405.4875" y="3270.4" width="64.4" height="916.7999999999997" fill="#A5A5A5"/>
<line x1="1436.6875" y1="3254" x2="1436.6875" y2="3289" stroke="#000" stroke-width="4.6" stroke-linecap="butt"/>
<line x1="1423.6875" y1="3254" x2="1449.6875" y2="3254" stroke="#000" stroke-width="4.6" stroke-linecap="butt"/>
<line x1="1423.6875" y1="3289" x2="1449.6875" y2="3289" stroke="#000" stroke-width="4.6" stroke-linecap="butt"/>
<rect x="1606.3625" y="3841" width="64.4" height="346.1999999999998" fill="#4472C4"/>
<line x1="1637.5625" y1="3821" x2="1637.5625" y2="3862" stroke="#000" stroke-width="4.6" stroke-linecap="butt"/>
<line x1="1624.5625" y1="3821" x2="1650.5625" y2="3821" stroke="#000" stroke-width="4.6" stroke-linecap="butt"/>
<line x1="1624.5625" y1="3862" x2="1650.5625" y2="3862" stroke="#000" stroke-width="4.6" stroke-linecap="butt"/>
<rect x="1687.3625" y="3543" width="64.4" height="644.1999999999998" fill="#ED7D31"/>
<line x1="1718.5625" y1="3534" x2="1718.5625" y2="3550" stroke="#000" stroke-width="4.6" stroke-linecap="butt"/>
<line x1="1705.5625" y1="3534" x2="1731.5625" y2="3534" stroke="#000" stroke-width="4.6" stroke-linecap="butt"/>
<line x1="1705.5625" y1="3550" x2="1731.5625" y2="3550" stroke="#000" stroke-width="4.6" stroke-linecap="butt"/>
<rect x="1768.3625" y="3273" width="64.4" height="914.1999999999998" fill="#A5A5A5"/>
<line x1="1799.5625" y1="3231" x2="1799.5625" y2="3316" stroke="#000" stroke-width="4.6" stroke-linecap="butt"/>
<line x1="1786.5625" y1="3231" x2="1812.5625" y2="3231" stroke="#000" stroke-width="4.6" stroke-linecap="butt"/>
<line x1="1786.5625" y1="3316" x2="1812.5625" y2="3316" stroke="#000" stroke-width="4.6" stroke-linecap="butt"/>
<rect x="449.5" y="3071.7" width="1451.5" height="1403.3000000000002" fill="none" stroke="#000" stroke-width="7.3"/>
<line x1="449.5" y1="4187.2" x2="1901" y2="4187.2" stroke="#000" stroke-width="7.3" stroke-linecap="butt"/>
<line x1="1176.6" y1="4187.2" x2="1176.6" y2="4475" stroke="#000" stroke-width="7.3" stroke-linecap="butt"/>
<text transform="translate(396.5 3090.5) scale(1 1.04)" font-size="61" text-anchor="end" fill="#000" font-weight="bold">300</text>
<line x1="449.5" y1="3257.6166666666663" x2="468.5" y2="3257.6166666666663" stroke="#000" stroke-width="7.3" stroke-linecap="butt"/>
<text transform="translate(396.5 3276.5) scale(1 1.04)" font-size="61" text-anchor="end" fill="#000" font-weight="bold">250</text>
<line x1="449.5" y1="3443.5333333333333" x2="468.5" y2="3443.5333333333333" stroke="#000" stroke-width="7.3" stroke-linecap="butt"/>
<text transform="translate(396.5 3462.4) scale(1 1.04)" font-size="61" text-anchor="end" fill="#000" font-weight="bold">200</text>
<line x1="449.5" y1="3629.45" x2="468.5" y2="3629.45" stroke="#000" stroke-width="7.3" stroke-linecap="butt"/>
<text transform="translate(396.5 3648.3) scale(1 1.04)" font-size="61" text-anchor="end" fill="#000" font-weight="bold">150</text>
<line x1="449.5" y1="3815.3666666666663" x2="468.5" y2="3815.3666666666663" stroke="#000" stroke-width="7.3" stroke-linecap="butt"/>
<text transform="translate(396.5 3834.2) scale(1 1.04)" font-size="61" text-anchor="end" fill="#000" font-weight="bold">100</text>
<line x1="449.5" y1="4001.2833333333333" x2="468.5" y2="4001.2833333333333" stroke="#000" stroke-width="7.3" stroke-linecap="butt"/>
<text transform="translate(396.5 4020.1) scale(1 1.04)" font-size="61" text-anchor="end" fill="#000" font-weight="bold">50</text>
<text transform="translate(396.5 4206.0) scale(1 1.04)" font-size="61" text-anchor="end" fill="#000" font-weight="bold">0</text>
<text transform="translate(248 3630) rotate(-90) scale(1 1.04)" font-size="90" text-anchor="middle" fill="#000" font-weight="bold">|ΔF| [Hz]</text>
<text x="847" y="3150" font-size="56.7" text-anchor="start" fill="#000" font-weight="bold">Sample flow ratio:</text>
<rect x="1372.5" y="3121.5" width="30.5" height="30.5" fill="#4472C4"/>
<text x="1416.5" y="3155" font-size="60" text-anchor="start" fill="#000" font-weight="bold">0.1</text>
<rect x="1551" y="3121.5" width="30.5" height="30.5" fill="#ED7D31"/>
<text x="1595" y="3155" font-size="60" text-anchor="start" fill="#000" font-weight="bold">0.2</text>
<rect x="1730" y="3121.5" width="30.5" height="30.5" fill="#A5A5A5"/>
<text x="1774" y="3155" font-size="60" text-anchor="start" fill="#000" font-weight="bold">0.3</text>
<text x="630.9375" y="4279" font-size="60.5" text-anchor="middle" fill="#000" font-weight="bold" letter-spacing="0.6">Commercial</text>
<text x="629.9375" y="4347" font-size="60.5" text-anchor="middle" fill="#000" font-weight="bold" letter-spacing="0.6">system</text>
<text x="993.8125" y="4279" font-size="60.5" text-anchor="middle" fill="#000" font-weight="bold" letter-spacing="0.6">Developed</text>
<text x="992.8125" y="4347" font-size="60.5" text-anchor="middle" fill="#000" font-weight="bold" letter-spacing="0.6">system</text>
<text x="1356.6875" y="4279" font-size="60.5" text-anchor="middle" fill="#000" font-weight="bold" letter-spacing="0.6">Commercial</text>
<text x="1355.6875" y="4347" font-size="60.5" text-anchor="middle" fill="#000" font-weight="bold" letter-spacing="0.6">system</text>
<text x="1719.5625" y="4279" font-size="60.5" text-anchor="middle" fill="#000" font-weight="bold" letter-spacing="0.6">Developed</text>
<text x="1718.5625" y="4347" font-size="60.5" text-anchor="middle" fill="#000" font-weight="bold" letter-spacing="0.6">system</text>
<text x="813" y="4457" font-size="60.5" text-anchor="middle" fill="#000" font-weight="bold" letter-spacing="0.6">Methanol</text>
<text x="1537.5" y="4457" font-size="60.5" text-anchor="middle" fill="#000" font-weight="bold" letter-spacing="0.6">DCM</text>
<text x="1045" y="1399" font-size="75" text-anchor="middle" font-weight="normal" font-family='"Liberation Serif", serif'>(<tspan font-weight="bold">a</tspan>)</text>
<text x="1045" y="2882.5" font-size="75" text-anchor="middle" font-weight="normal" font-family='"Liberation Serif", serif'>(<tspan font-weight="bold">b</tspan>)</text>
<text x="1045" y="4632" font-size="75" text-anchor="middle" font-weight="normal" font-family='"Liberation Serif", serif'>(<tspan font-weight="bold">c</tspan>)</text>
</svg>
</body></html>
